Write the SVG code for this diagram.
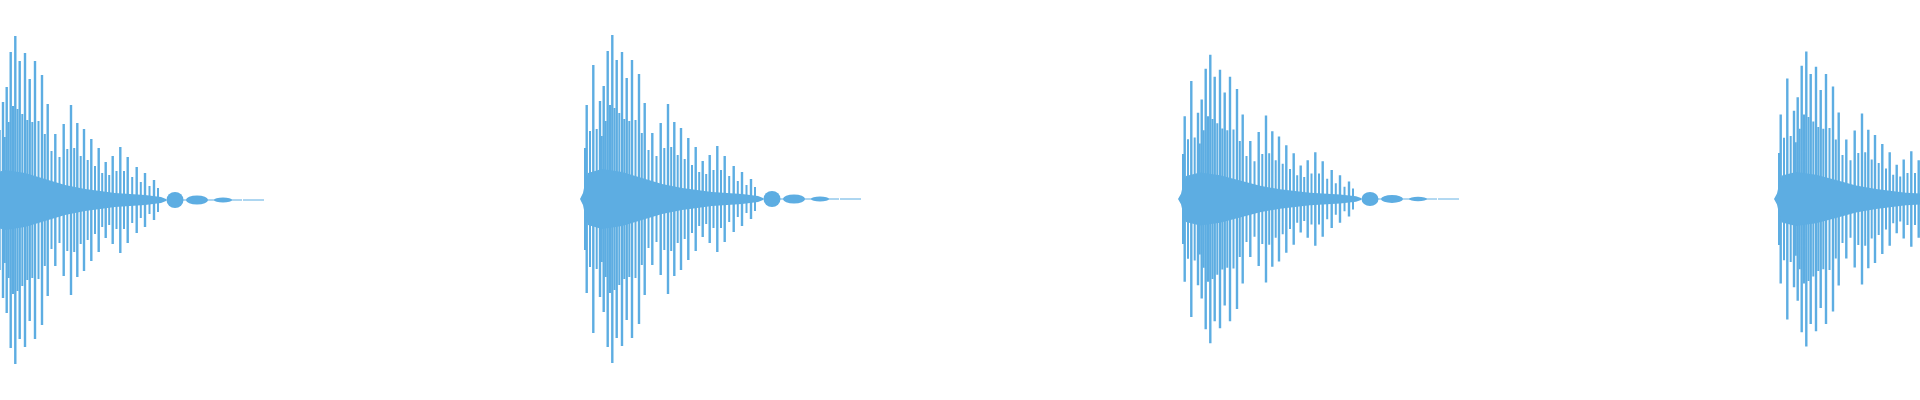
<svg xmlns="http://www.w3.org/2000/svg" width="1920" height="400" viewBox="0 0 1920 400">
<style>
.w{fill:none;stroke:#5dade2;stroke-width:2.4}
.s{fill:none;stroke:#5dade2;stroke-width:2}
.t{fill:none;stroke:#5dade2;stroke-width:1}
.f{fill:#5dade2}
</style>
<defs>
<g id="burst">
<path class="w" d="M4.7 -94V94M11.3 -134V134M18 -98V98M21.7 -113V113M25.7 -148V148M30.3 -164V164M34.7 -139V139M40 -147V147M44.7 -121V121M50 -139V139M57 -125V125M62.7 -96V96M70.3 -66V66M78.7 -76V76M86 -95V95M92.3 -77V77M99 -71V71M106.3 -61V61M113.7 -52V52M120.7 -38V38M127.7 -44V44M135.3 -53V53M142.7 -43V43M151.7 -33V33M160 -27V27M169 -20V20"/>
<path class="s" d="M3 -51V51M8 -68V68M14.7 -70V70M19.8 -63V63M23.7 -78V78M28 -94V94M32.5 -91V91M37.3 -86V86M42.3 -80V80M47.3 -78V78M53.5 -79V79M59.8 -66V66M66.5 -49V49M74.5 -43V43M82.3 -51V51M89.2 -52V52M95.7 -44V44M102.7 -40V40M110 -34V34M117.2 -27V27M124.2 -25V25M131.5 -29V29M139 -29V29M147.2 -23V23M155.8 -18V18M164.5 -14V14M173 -12V12"/>
<polygon class="f" points="-2,0 1,-6 3,-16 6,-26 20,-30 40,-27 60,-21 80,-15 100,-11 130,-7 160,-5 176,-3 181,-1 181,1 176,3 160,5 130,7 100,11 80,15 60,21 40,27 20,30 6,26 3,16 1,6"/>
<path class="t" d="M176 0H257"/>
<ellipse class="f" cx="190" cy="0" rx="8.5" ry="8"/>
<ellipse class="f" cx="212" cy="0" rx="11" ry="4.5"/>
<ellipse class="f" cx="238" cy="0" rx="9" ry="2.5"/>
<path class="t" d="M258 0H279"/>
</g>
</defs>
<use href="#burst" transform="translate(-15,200)"/>
<use href="#burst" transform="translate(582,199)"/>
<use href="#burst" transform="translate(1180,199) scale(1,0.88)"/>
<use href="#burst" transform="translate(1776,199) scale(1,0.9)"/>
</svg>
